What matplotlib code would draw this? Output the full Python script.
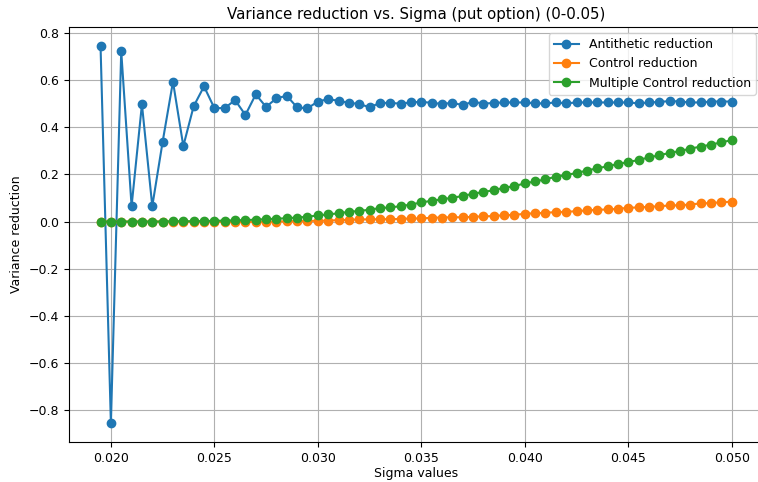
import matplotlib
matplotlib.use("Agg")
import matplotlib.pyplot as plt

sigma_values = [
    0.0195, 0.0200, 0.0205, 0.0210, 0.0215, 0.0220, 0.0225, 0.0230, 0.0235, 0.0240,
    0.0245, 0.0250, 0.0255, 0.0260, 0.0265, 0.0270, 0.0275, 0.0280, 0.0285, 0.0290,
    0.0295, 0.0300, 0.0305, 0.0310, 0.0315, 0.0320, 0.0325, 0.0330, 0.0335, 0.0340,
    0.0345, 0.0350, 0.0355, 0.0360, 0.0365, 0.0370, 0.0375, 0.0380, 0.0385, 0.0390,
    0.0395, 0.0400, 0.0405, 0.0410, 0.0415, 0.0420, 0.0425, 0.0430, 0.0435, 0.0440,
    0.0445, 0.0450, 0.0455, 0.0460, 0.0465, 0.0470, 0.0475, 0.0480, 0.0485, 0.0490,
    0.0495, 0.0500,
]

antithetic_reduction = [
    0.745, -0.855, 0.722, 0.065, 0.497, 0.065, 0.338, 0.593, 0.320, 0.489,
    0.573, 0.481, 0.481, 0.515, 0.452, 0.539, 0.486, 0.523, 0.533, 0.484,
    0.480, 0.509, 0.519, 0.512, 0.503, 0.499, 0.484, 0.503, 0.503, 0.500,
    0.505, 0.508, 0.503, 0.499, 0.503, 0.494, 0.508, 0.500, 0.503, 0.505,
    0.505, 0.505, 0.501, 0.501, 0.505, 0.501, 0.505, 0.505, 0.505, 0.505,
    0.505, 0.505, 0.501, 0.505, 0.507, 0.511, 0.509, 0.505, 0.505, 0.509,
    0.509, 0.509,
]

control_reduction = [
    0.000, 0.000, 0.000, 0.000, 0.000, 0.000, 0.000, 0.000, 0.000, 0.000,
    -0.001, -0.001, -0.002, -0.002, -0.002, -0.001, -0.001, 0.000, 0.001, 0.002,
    0.003, 0.003, 0.004, 0.006, 0.007, 0.009, 0.009, 0.010, 0.010, 0.011,
    0.013, 0.013, 0.016, 0.017, 0.018, 0.018, 0.020, 0.022, 0.023, 0.027,
    0.028, 0.033, 0.035, 0.037, 0.040, 0.041, 0.044, 0.047, 0.050, 0.051,
    0.054, 0.058, 0.060, 0.062, 0.065, 0.068, 0.069, 0.072, 0.077, 0.078,
    0.082, 0.084,
]

multiple_control_reduction = [
    0.000, 0.000, 0.000, 0.000, 0.000, 0.000, 0.000, 0.001, 0.001, 0.001,
    0.002, 0.003, 0.004, 0.005, 0.006, 0.008, 0.010, 0.012, 0.014, 0.017,
    0.020, 0.026, 0.030, 0.035, 0.041, 0.045, 0.050, 0.057, 0.060, 0.065,
    0.072, 0.081, 0.088, 0.094, 0.101, 0.108, 0.118, 0.125, 0.133, 0.143,
    0.150, 0.162, 0.170, 0.179, 0.190, 0.197, 0.206, 0.216, 0.226, 0.234,
    0.244, 0.252, 0.261, 0.272, 0.281, 0.291, 0.299, 0.309, 0.318, 0.326,
    0.336, 0.345,
]

plt.rcParams["font.size"] = 9

fig = plt.figure(figsize=(7.58, 4.82), dpi=100)
# the original picture is cropped on the right, so the axes run past the edge
ax = fig.add_axes([0.091, 0.083, 0.916, 0.861])

ax.plot(sigma_values, antithetic_reduction, marker="o", label="Antithetic reduction")
ax.plot(sigma_values, control_reduction, marker="o", label="Control reduction")
ax.plot(sigma_values, multiple_control_reduction, marker="o", label="Multiple Control reduction")

ax.set_title("Variance reduction vs. Sigma (put option) (0-0.05)", fontsize=10.8)
ax.set_xlabel("Sigma values", labelpad=2)
ax.set_ylabel("Variance reduction")
ax.grid(True)
ax.spines["right"].set_visible(False)
ax.legend(loc="upper right", bbox_to_anchor=(0.998, 1.0))

fig.savefig("out.png", dpi=100)
